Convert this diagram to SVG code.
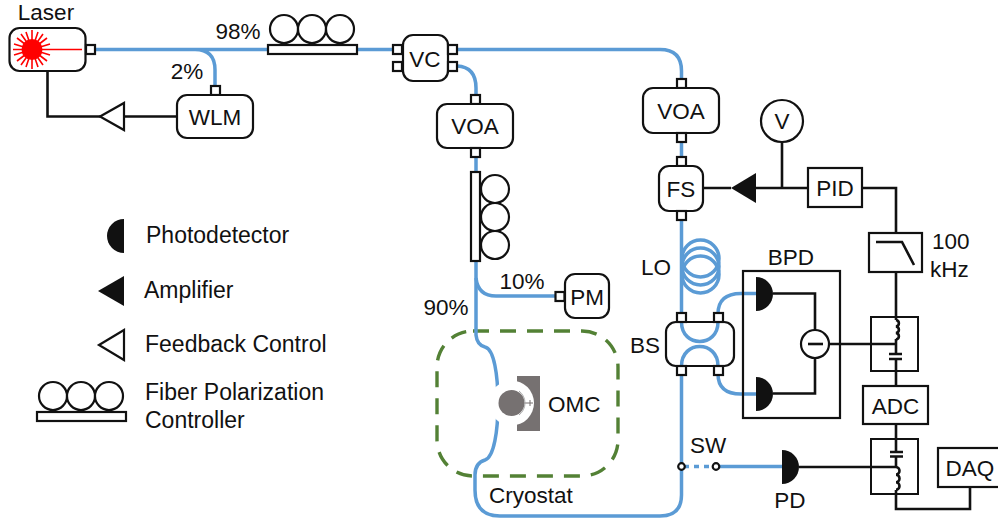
<svg xmlns="http://www.w3.org/2000/svg" xmlns:xlink="http://www.w3.org/1999/xlink" width="998" height="520" viewBox="0 0 998 520">
<style>
text{font-family:"Liberation Sans",Arial,sans-serif;font-size:22.5px;fill:#111}
#legend text{font-size:23px}
.m{text-anchor:middle}
.f{fill:none;stroke:#5b9bd5;stroke-width:3.5}
.w{fill:none;stroke:#111;stroke-width:2.6}
.b{fill:#fff;stroke:#111;stroke-width:2.2}
.k{fill:#111;stroke:none}
.r{fill:none;stroke:#f00;stroke-width:1.6}
</style>
<defs>
<rect id="p" width="9" height="9" class="b"/>
<g id="fpc"><rect x="0" y="16" width="89" height="9" class="b"/><circle cx="16" cy="0" r="14" class="b"/><circle cx="44" cy="0" r="14" class="b"/><circle cx="72" cy="0" r="14" class="b"/></g>
<path id="det" d="M0 -17A17 17 0 0 1 0 17Z" class="k"/>
</defs>
<rect width="998" height="520" fill="#fff"/>
<g id="cryostat"><rect x="437" y="331" width="181" height="145" rx="36" fill="none" stroke="#538135" stroke-width="3.4" stroke-dasharray="16 11"/><text x="489" y="503">Cryostat</text></g>
<g id="connectors">
<path class="f" d="M95 49.5H393M195 49.5Q215 49.5 215 70V86M357 49.5H393"/>
<path class="f" d="M457 49.5H660Q681.5 49.5 681.5 71V80M681.5 142V158M681.5 220V314"/>
<path class="f" d="M457 66Q476 67 476 88V96M476 157V173M476 260V335Q477 345 485 347C494 349 498 375 498 403C498 431 494 457 485 460Q475 463 475 475V490Q475 516 500 516H660Q681.5 516 681.5 495V374"/>
<path class="f" d="M476 278Q478 296 496 296H556"/>
<path class="f" d="M718 314Q718 293.500 741 293.500H757M718 374Q718 394 741 394H757M716 466.500H782"/>
<path class="f" d="M684 466.500H713" stroke-dasharray="5 5"/>
<g class="f" stroke-width="3"><circle cx="700.500" cy="258.500" r="18.500"/><circle cx="700.500" cy="266.500" r="18.500"/><circle cx="700.500" cy="274.500" r="18.500"/></g>
<path class="w" d="M47.500 71V116.500H100M124 116.500H177M703 188H731M756 188H808M782 142V188M862 188H896V233M896 272V320M896 339V354M896 360V386M896 424V452M896 457V467M896 490V509H970V487M799 467H896M829 344H896M773 293.500H815V330M773 393.500H815V358"/>
<path class="w" stroke-width="2" d="M896 320a3.500 3.300 0 0 1 0 6.500a3.500 3.300 0 0 1 0 6.500a3.500 3.300 0 0 1 0 6.500M896 467a3.500 3.800 0 0 1 0 7.600a3.500 3.800 0 0 1 0 7.600a3.500 3.800 0 0 1 0 7.600"/>
</g>
<g id="laser"><text x="46" y="20" class="m">Laser</text><rect x="9.500" y="28" width="76" height="43" rx="10" class="b"/><circle cx="32" cy="49.500" r="10.500" fill="#f00"/><path class="r" d="M13 49.500H82M32 30V69M14 44L50 55M14 55L50 44M17 38L47 61M17 61L47 38M21 34L43 65M21 65L43 34M26 32L38 67M26 67L38 32"/><use xlink:href="#p" x="86" y="45"/></g>
<g id="wlm"><use xlink:href="#p" x="211" y="86"/><rect x="177" y="95" width="76" height="43" rx="10" class="b"/><text x="215" y="125" class="m">WLM</text></g>
<g id="feedback"><path d="M100 116.500L124 103V130Z" class="b"/></g>
<text x="238" y="39" class="m">98%</text>
<text x="187" y="79" class="m">2%</text>
<use id="fpc1" xlink:href="#fpc" x="268" y="29"/>
<g id="vc"><rect x="403" y="35" width="45" height="46" rx="10" class="b"/><text x="425" y="67" class="m">VC</text><use xlink:href="#p" x="393" y="45"/><use xlink:href="#p" x="393" y="62"/><use xlink:href="#p" x="448" y="45"/><use xlink:href="#p" x="448" y="62"/></g>
<g id="voa1"><use xlink:href="#p" x="471" y="95"/><rect x="437" y="104" width="76" height="44" rx="10" class="b"/><text x="475" y="134" class="m">VOA</text><use xlink:href="#p" x="471" y="148"/></g>
<g id="fpc2"><rect x="471" y="172" width="9" height="89" class="b"/><circle cx="495" cy="189" r="14" class="b"/><circle cx="495" cy="217" r="14" class="b"/><circle cx="495" cy="245" r="14" class="b"/></g>
<g id="pm"><use xlink:href="#p" x="555.500" y="292"/><rect x="565" y="274" width="44" height="44" rx="10" class="b"/><text x="587" y="305" class="m">PM</text></g>
<text x="522" y="289" class="m">10%</text>
<text x="446" y="315" class="m">90%</text>
<g id="omc"><rect x="517" y="376" width="23" height="55" fill="#767171"/><circle cx="511.500" cy="403" r="22.500" fill="#fff"/><circle cx="511.500" cy="403" r="13" fill="#767171"/><path d="M522 403H533M530 400V406" stroke="#767171" stroke-width="1" fill="none"/><path d="M519 391A15 15 0 0 1 519 415" stroke="#aaa" stroke-width="1" fill="none"/><text x="548" y="412">OMC</text></g>
<g id="voa2"><use xlink:href="#p" x="677" y="79"/><rect x="643" y="88" width="76" height="45" rx="10" class="b"/><text x="681" y="119" class="m">VOA</text><use xlink:href="#p" x="677" y="133"/></g>
<g id="fs"><use xlink:href="#p" x="677" y="157"/><rect x="659" y="166" width="44" height="45" rx="10" class="b"/><text x="681" y="197" class="m">FS</text><use xlink:href="#p" x="677" y="211"/></g>
<path id="amp" d="M731 188L756 173V203Z" class="k"/>
<g id="v"><circle cx="782" cy="121" r="21" class="b"/><text x="782" y="129" class="m">V</text></g>
<g id="pid"><rect x="808" y="168" width="54" height="39" class="b"/><text x="835" y="196" class="m">PID</text></g>
<g id="lpf"><rect x="869" y="233" width="53" height="39" class="b"/><path class="w" d="M876 242H902L914 265"/><text x="932" y="249">100</text><text x="930" y="277">kHz</text></g>
<text x="656" y="275" class="m">LO</text>
<g id="bs"><text x="645" y="353" class="m">BS</text><rect x="666" y="322" width="68" height="44" rx="10" class="b"/><path class="f" d="M681.500 322C681.500 348 718 348 718 322M681.500 366C681.500 340 718 340 718 366"/><use xlink:href="#p" x="677" y="313"/><use xlink:href="#p" x="714" y="313"/><use xlink:href="#p" x="677" y="366"/><use xlink:href="#p" x="714" y="366"/></g>
<g id="bpd"><text x="791" y="265" class="m">BPD</text><rect x="743" y="271" width="97" height="147" fill="none" stroke="#111" stroke-width="2.200"/><use xlink:href="#det" x="756" y="294"/><use xlink:href="#det" x="756" y="394"/><circle cx="815" cy="344" r="14" class="b"/><path class="w" d="M808 344H823"/></g>
<g id="bias1"><rect x="871" y="317" width="47" height="54" fill="none" stroke="#111" stroke-width="2"/><path class="w" d="M889 354H902M889 359H902"/></g>
<g id="adc"><rect x="863" y="386" width="65" height="38" class="b"/><text x="895.500" y="414" class="m">ADC</text></g>
<g id="bias2"><rect x="871" y="439" width="47" height="55" fill="none" stroke="#111" stroke-width="2"/><path class="w" d="M890 452H903M890 456.500H903"/></g>
<g id="daq"><rect x="938" y="448" width="62" height="39" class="b"/><text x="970" y="476" class="m">DAQ</text></g>
<g id="sw"><text x="708" y="453" class="m">SW</text><circle cx="681.500" cy="466.500" r="3.300" class="b" stroke-width="1.600"/><circle cx="716" cy="466.500" r="3.300" class="b" stroke-width="1.600"/></g>
<g id="pd"><use xlink:href="#det" x="782" y="467"/><text x="790" y="508" class="m">PD</text></g>
<g id="legend">
<path d="M124 219A17 17 0 0 0 124 253Z" class="k"/><text x="146" y="243">Photodetector</text>
<path d="M98 291L124 276V306Z" class="k"/><text x="144" y="298">Amplifier</text>
<path d="M99 345L124 330V360Z" class="b"/><text x="145" y="352">Feedback Control</text>
<use xlink:href="#fpc" x="37" y="396"/><text x="145" y="400">Fiber Polarization</text><text x="145" y="428">Controller</text>
</g>
</svg>
